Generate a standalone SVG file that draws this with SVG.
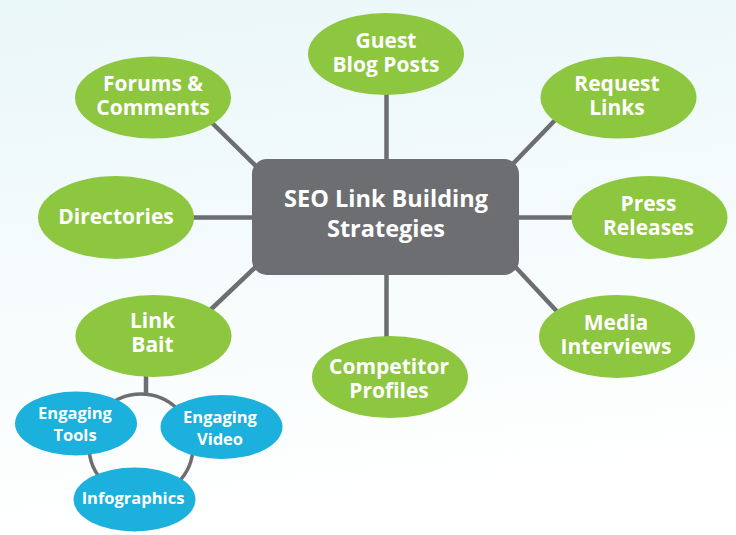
<svg xmlns="http://www.w3.org/2000/svg" width="736" height="535" viewBox="0 0 736 535">
<defs>
<linearGradient id="bg" x1="0" y1="0" x2="0.15" y2="1">
<stop offset="0" stop-color="#eaf7f9"/>
<stop offset="1" stop-color="#ffffff"/>
</linearGradient>
<style>
.g{fill:#8dc63f}
.b{fill:#1cb0dc}
.c{fill:#6d6e71}
.ln{stroke:#6d6e71;stroke-width:4.5;fill:none}
.t{font-family:"Open Sans","Liberation Sans",sans-serif;font-weight:700;fill:#ffffff;text-anchor:middle}
.tg{font-size:21px}
.tc{font-size:23.5px}
.tb{font-size:16.5px}
</style>
</defs>
<rect width="736" height="535" fill="url(#bg)"/>
<g id="connectors">
<line class="ln" x1="386.5" y1="90" x2="386.5" y2="165"/>
<line class="ln" x1="386.5" y1="270" x2="386.5" y2="340"/>
<line class="ln" x1="190" y1="217.5" x2="258" y2="217.5"/>
<line class="ln" x1="512" y1="217.5" x2="576" y2="217.5"/>
<line class="ln" x1="265" y1="175" x2="205" y2="116"/>
<line class="ln" x1="507" y1="170" x2="560" y2="115"/>
<line class="ln" x1="263" y1="260" x2="205" y2="315"/>
<line class="ln" x1="507" y1="258" x2="565" y2="320"/>
<line class="ln" x1="146" y1="372" x2="146" y2="396"/>
<circle cx="141" cy="446" r="52" fill="none" stroke="#6d6e71" stroke-width="3.5"/>
</g>
<g id="center">
<rect class="c" x="252" y="159" width="267" height="116" rx="15"/>
<text class="t tc" x="386" y="207">SEO Link Building</text>
<text class="t tc" x="386" y="237">Strategies</text>
</g>
<g id="guest">
<ellipse class="g" cx="386" cy="54" rx="78" ry="41"/>
<text class="t tg" x="386" y="47.5">Guest</text>
<text class="t tg" x="386" y="72">Blog Posts</text>
</g>
<g id="forums">
<ellipse class="g" cx="153" cy="97.5" rx="78" ry="41"/>
<text class="t tg" x="153" y="90.5">Forums &amp;</text>
<text class="t tg" x="153" y="114.5">Comments</text>
</g>
<g id="request">
<ellipse class="g" cx="618.5" cy="97.5" rx="78" ry="41"/>
<text class="t tg" x="617" y="90.5">Request</text>
<text class="t tg" x="617" y="114.5">Links</text>
</g>
<g id="directories">
<ellipse class="g" cx="116" cy="217.5" rx="78" ry="41.5"/>
<text class="t tg" x="116" y="224">Directories</text>
</g>
<g id="press">
<ellipse class="g" cx="649.5" cy="217.5" rx="78" ry="41.5"/>
<text class="t tg" x="648.5" y="210.5">Press</text>
<text class="t tg" x="648.5" y="234.5">Releases</text>
</g>
<g id="linkbait">
<ellipse class="g" cx="153.5" cy="336" rx="78" ry="41"/>
<text class="t tg" x="152.5" y="328">Link</text>
<text class="t tg" x="152.5" y="352">Bait</text>
</g>
<g id="competitor">
<ellipse class="g" cx="390" cy="377" rx="78" ry="41"/>
<text class="t tg" x="389" y="374">Competitor</text>
<text class="t tg" x="389" y="398">Profiles</text>
</g>
<g id="media">
<ellipse class="g" cx="617" cy="336.5" rx="78" ry="41.5"/>
<text class="t tg" x="616" y="330">Media</text>
<text class="t tg" x="616" y="354">Interviews</text>
</g>
<g id="tools">
<ellipse class="b" cx="76" cy="423.5" rx="61" ry="32"/>
<text class="t tb" x="75" y="419">Engaging</text>
<text class="t tb" x="75" y="441">Tools</text>
</g>
<g id="video">
<ellipse class="b" cx="221.5" cy="427" rx="61" ry="32"/>
<text class="t tb" x="220" y="423">Engaging</text>
<text class="t tb" x="220" y="445">Video</text>
</g>
<g id="infographics">
<ellipse class="b" cx="134.5" cy="499.5" rx="61" ry="32"/>
<text class="t tb" x="133" y="504">Infographics</text>
</g>
</svg>
